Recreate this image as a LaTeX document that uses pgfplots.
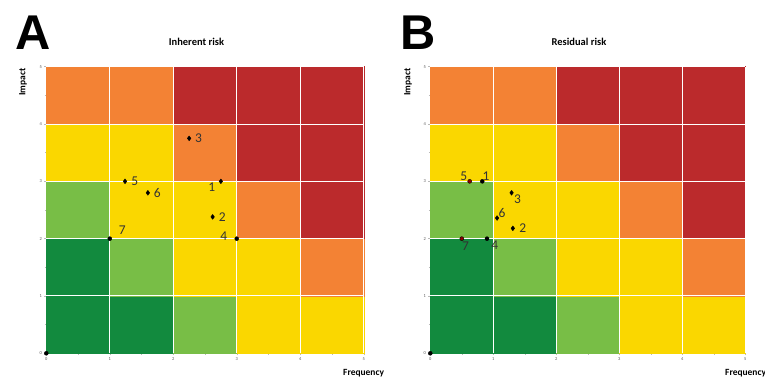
\documentclass[border=0pt]{standalone}
\usepackage{fontspec}
\setmainfont{Carlito}
\newfontfamily\bigfont{Liberation Sans}
\usepackage{pgfplots}
\pgfplotsset{compat=1.18}
\usepackage{pgfplotstable}

\pgfplotstableread{
x y c
0.5 0.5 0
1.5 0.5 0
2.5 0.5 1
3.5 0.5 2
4.5 0.5 2
0.5 1.5 0
1.5 1.5 1
2.5 1.5 2
3.5 1.5 2
4.5 1.5 3
0.5 2.5 1
1.5 2.5 2
2.5 2.5 2
3.5 2.5 3
4.5 2.5 4
0.5 3.5 2
1.5 3.5 2
2.5 3.5 3
3.5 3.5 4
4.5 3.5 4
0.5 4.5 3
1.5 4.5 3
2.5 4.5 4
3.5 4.5 4
4.5 4.5 4
}\cells

% white cell borders
\pgfplotstableread{
x y
1 0
1 5
nan nan
2 0
2 5
nan nan
3 0
3 5
nan nan
4 0
4 5
nan nan
5 0
5 5
nan nan
0 1
5 1
nan nan
0 2
5 2
nan nan
0 3
5 3
nan nan
0 4
5 4
nan nan
0 5
5 5
}\gridlines

% Panel A points (dx, dy: label offset in bp)
\pgfplotstableread{
x y lab dx dy
2.75 3.00 1 -9 -6.3
2.62 2.38 2 9.7 0
2.25 3.75 3 9.4 0
1.24 3.00 5 9.7 0
1.60 2.80 6 9.3 0
}\ptsAd
\pgfplotstableread{
x y lab dx dy
3.00 2.00 4 -13 2.4
1.00 2.00 7 12.4 8
}\ptsAc

% Panel B points
\pgfplotstableread{
x y lab dx dy
1.29 2.80 3 6 -6.3
1.06 2.36 6 5 5.3
1.31 2.18 2 10 0
}\ptsBd
\pgfplotstableread{
x y lab dx dy
0.825 3.00 1 3.7 5.4
0.90 2.00 4 7.7 -6.6
}\ptsBc
\pgfplotstableread{
x y lab dx dy
0.625 3.00 5 -6 4.7
0.50 2.00 7 3.7 -8
}\ptsBr

\begin{document}
\begin{tikzpicture}
\path[use as bounding box] (0,0) rectangle (765bp,379bp);
\pgfplotsset{
  riskaxis/.style={
    scale only axis, height=286.6bp,
    xmin=0, xmax=5, ymin=0, ymax=5,
    clip=false,
    axis x line=bottom, axis y line=left,
    axis line style={-, gray!55, line width=0.5bp},
    xtick={0,...,5}, ytick={0,...,5}, minor tick num=1,
    tick align=outside,
    major tick length=2bp, minor tick length=1.5bp,
    tick style={gray!55, line width=0.4bp},
    ticklabel style={font=\fontsize{4.5}{5}\selectfont, text=gray!70!black},
    /pgf/number format/assume math mode=true,
    xticklabel style={yshift=1bp},
    yticklabel style={xshift=1bp},
    colormap={risk}{rgb255=(18,138,62) rgb255=(120,190,70) rgb255=(250,215,0) rgb255=(243,130,52) rgb255=(187,42,44)},
    point meta min=0, point meta max=4,
    colormap access=piecewise constant,
    unbounded coords=jump,
  },
  labelled/.style={
    only marks, point meta=explicit symbolic, nodes near coords,
    visualization depends on={\thisrow{dx}\as\dx},
    visualization depends on={\thisrow{dy}\as\dy},
    every node near coord/.append style={anchor=center, xshift=\dx bp, yshift=\dy bp, font=\fontsize{13.5}{14}\selectfont, text=black!80, inner sep=0pt},
  },
}
\begin{axis}[riskaxis, at={(46.3bp,25.7bp)}, anchor=south west, width=317.4bp]
\addplot[matrix plot*, point meta=explicit, mesh/cols=5] table[meta=c] {\cells};
\addplot[white, line width=1bp] table {\gridlines};
\addplot[only marks, mark=*, mark size=2bp, black] coordinates {(0,0)};
\addplot[labelled, mark=diamond*, mark size=2.4bp, black] table[meta=lab] {\ptsAd};
\addplot[labelled, mark=*, mark size=2bp, black] table[meta=lab] {\ptsAc};
\end{axis}
\begin{axis}[riskaxis, at={(430.3bp,25.7bp)}, anchor=south west, width=315bp]
\addplot[matrix plot*, point meta=explicit, mesh/cols=5] table[meta=c] {\cells};
\addplot[white, line width=1bp] table {\gridlines};
\addplot[only marks, mark=*, mark size=2bp, black] coordinates {(0,0)};
\addplot[labelled, mark=diamond*, mark size=2.4bp, black] table[meta=lab] {\ptsBd};
\addplot[labelled, mark=*, mark size=2bp, black] table[meta=lab] {\ptsBc};
\addplot[labelled, mark=*, mark size=2bp, draw=black, fill=red!55!black] table[meta=lab] {\ptsBr};
\end{axis}
% panel letters and titles
\node[font=\bigfont\bfseries\fontsize{49}{49}\selectfont] at (33bp,346.5bp) {A};
\node[font=\bigfont\bfseries\fontsize{49}{49}\selectfont] at (418bp,346.5bp) {B};
\node[font=\bfseries\fontsize{10.5}{11}\selectfont] at (196.5bp,337bp) {Inherent risk};
\node[font=\bfseries\fontsize{10.5}{11}\selectfont] at (579bp,337bp) {Residual risk};
\node[font=\bfseries\fontsize{9.5}{10}\selectfont, rotate=90] at (23bp,297bp) {Impact};
\node[font=\bfseries\fontsize{9.5}{10}\selectfont, rotate=90] at (408bp,297bp) {Impact};
\node[font=\bfseries\fontsize{9.5}{10}\selectfont, anchor=west, inner sep=0pt] at (343bp,6.3bp) {Frequency};
\node[font=\bfseries\fontsize{9.5}{10}\selectfont, anchor=west, inner sep=0pt] at (725bp,6.3bp) {Frequency};
\end{tikzpicture}
\end{document}
